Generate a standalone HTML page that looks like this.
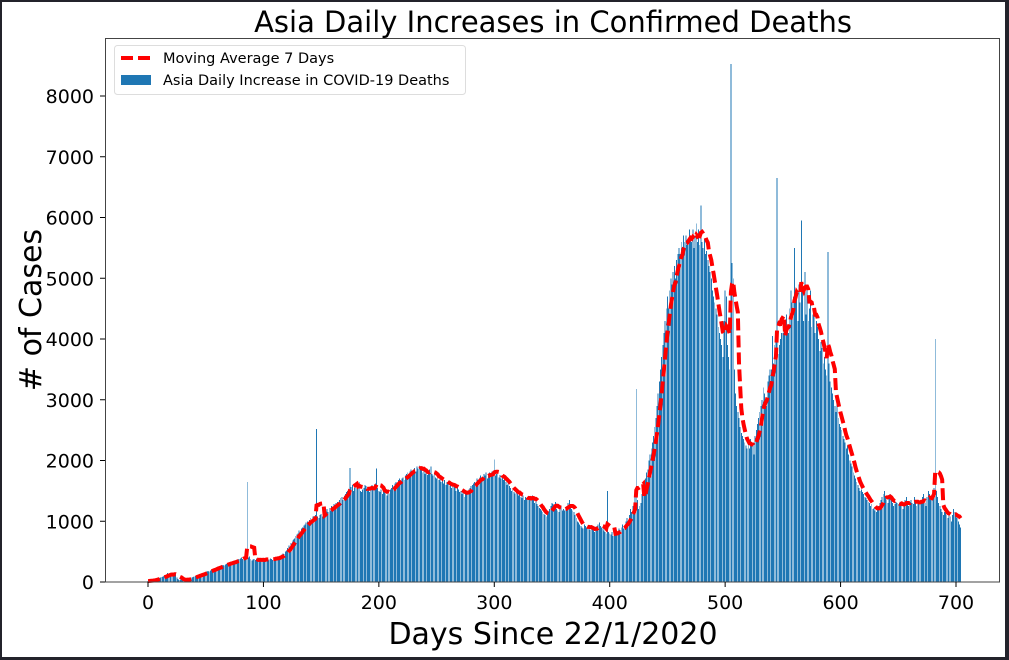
<!DOCTYPE html>
<html><head><meta charset="utf-8"><style>
html,body{margin:0;padding:0;background:#23232b;}
svg{display:block;font-family:"DejaVu Sans","Liberation Sans",sans-serif;}
</style></head><body>
<svg id="chart" width="1009" height="660" viewBox="0 0 1009 660">
<rect x="2" y="2" width="1003" height="655" fill="#fff"/>
<text x="553" y="32" font-size="29" text-anchor="middle">Asia Daily Increases in Confirmed Deaths</text>
<g id="bars" shape-rendering="crispEdges"></g>
<path id="ma" fill="none" stroke="#ff0000" stroke-width="4" stroke-dasharray="12 5"/>
<rect x="105.5" y="38.5" width="894" height="543.5" fill="none" stroke="#444" stroke-width="1"/>
<g id="xt"></g>
<g id="yt"></g>
<text x="553" y="644" font-size="30" text-anchor="middle">Days Since 22/1/2020</text>
<text transform="translate(41,310) rotate(-90)" font-size="30" text-anchor="middle">#  of Cases</text>
<g>
<rect x="114.5" y="45.5" width="351" height="49" rx="3" fill="#fff" stroke="#ddd"/>
<line x1="121" y1="58" x2="150" y2="58" stroke="#ff0000" stroke-width="4" stroke-dasharray="12 5"/>
<text x="163" y="63" font-size="14.5">Moving Average 7 Days</text>
<rect x="121" y="75" width="30" height="10" fill="#1f77b4"/>
<text x="163" y="85" font-size="14.5">Asia Daily Increase in COVID-19 Deaths</text>
</g>
</svg>
<script>
const deaths = [
17,15,24,26,26,38,42,46,59,64,
66,73,86,89,97,108,97,146,121,143,
142,105,98,136,150,70,52,29,44,47,
35,42,31,38,31,52,58,60,70,80,
90,95,100,110,105,120,130,140,135,150,
160,170,180,175,190,200,210,220,215,230,
240,250,245,260,270,280,275,290,300,310,
300,320,330,310,340,350,330,360,370,380,
390,400,380,420,410,430,1650,400,420,380,
350,370,380,360,390,340,350,370,360,380,
370,360,390,380,350,370,390,380,360,400,
390,410,380,420,400,430,450,470,460,500,
520,560,600,580,640,680,700,720,760,780,
800,850,820,880,900,930,950,980,1000,960,
1020,1050,990,1080,1060,1100,2520,1080,1050,1100,
1120,1080,1150,1100,1180,1200,1150,1220,1180,1250,
1230,1280,1250,1300,1320,1280,1350,1380,1400,1350,
1420,1450,1480,1500,1520,1880,1560,1600,1500,1550,
1600,1620,1580,1650,1500,1480,1520,1550,1600,1580,
1500,1520,1480,1560,1600,1550,1580,1620,1870,1550,
1500,1480,1520,1450,1500,1550,1480,1420,1500,1460,
1520,1550,1600,1580,1620,1650,1600,1680,1700,1650,
1700,1720,1680,1750,1780,1800,1760,1820,1850,1800,
1850,1880,1820,1900,1870,1920,1880,1850,1800,1830,
1780,1800,1760,1820,1850,1900,1780,1750,1800,1720,
1700,1750,1680,1720,1650,1700,1620,1680,1600,1650,
1620,1580,1600,1550,1620,1580,1600,1500,1560,1520,
1480,1500,1450,1520,1400,1480,1450,1500,1520,1550,
1580,1600,1620,1650,1600,1700,1680,1720,1750,1700,
1720,1780,1750,1800,1700,1760,1800,1750,1820,1780,
2020,1750,1780,1800,1720,1760,1700,1740,1680,1700,
1650,1600,1620,1580,1550,1500,1520,1480,1460,1500,
1450,1420,1480,1400,1380,1420,1350,1400,1380,1360,
1380,1400,1350,1420,1380,1300,1350,1280,1250,1220,
1200,1180,1150,1120,1100,1080,1120,1150,1200,1250,
1300,1280,1250,1320,1200,1180,1150,1220,1250,1180,
1200,1180,1220,1250,1300,1350,1250,1200,1180,1150,
1100,1050,1000,980,950,920,900,880,950,920,
900,880,920,860,900,880,850,820,900,920,
950,980,920,900,880,850,820,800,1500,820,
800,780,820,760,800,780,850,820,880,860,
900,950,880,920,1000,1050,980,1100,1200,1150,
1250,1300,1400,3180,1350,1200,1250,1300,1450,1550,
1650,1700,1800,1850,2000,2100,2200,2300,2400,2550,
2700,2900,3100,3300,3500,3700,3900,4100,4300,4500,
4700,4500,4800,5000,4900,5100,5200,5000,5300,5400,
5500,5400,5600,5500,5700,5600,5700,5550,5600,5800,
5700,5600,5800,5500,5700,5900,5600,5800,5550,6200,
5600,5500,5650,5400,5450,5300,5200,5100,5000,4800,
4700,4600,4500,4400,4200,4100,4000,3900,3700,4300,
4800,4700,3900,3700,3500,8530,5250,5000,3500,3100,
2900,2800,2700,2550,2450,2400,2350,2300,2250,2200,
2300,2200,2350,2250,2300,2100,2400,2500,2600,2700,
2800,2900,3000,3200,3100,3000,2900,3300,3400,3500,
3500,4050,3600,3900,4000,6650,3750,3900,4000,4100,
4100,4200,4300,4400,4200,4100,4500,4800,4600,4700,
5500,4600,4700,4300,4900,4600,5950,4800,4300,5100,
4400,4900,4300,4500,4800,4200,4400,4500,4100,4300,
4200,4000,3800,3950,3850,3600,3700,3500,3400,5430,
3600,3300,3200,3100,3000,2900,2800,2950,2700,2600,
2550,2500,2400,2350,2300,2200,2250,2100,2000,1950,
1900,1800,1750,1700,1650,1600,1550,1500,1520,1480,
1450,1400,1380,1350,1320,1300,1250,1280,1200,1220,
1180,1150,1200,1250,1300,1350,1400,1450,1500,1400,
1350,1300,1400,1450,1350,1300,1250,1280,1320,1300,
1280,1300,1250,1320,1200,1280,1350,1400,1300,1250,
1320,1350,1300,1280,1400,1350,1250,1320,1280,1300,
1350,1400,1450,1300,1250,1400,1500,1450,1350,1400,
1500,1550,4000,1500,1400,1300,1250,1200,1150,1100,
1150,1200,1100,1050,1150,1080,1000,1100,1200,1150,
1100,1050,1000,950,900
];
const xTicks = [0,100,200,300,400,500,600,700];
const yTicks = [0,1000,2000,3000,4000,5000,6000,7000,8000];
const window7 = 7;

const NS = "http://www.w3.org/2000/svg";
const X0 = 148, XS = 808/700, Y0 = 582, YS = 486/8000;
const xs = d => X0 + d*XS;
const ys = v => Y0 - v*YS;

const bars = document.getElementById('bars');
deaths.forEach((v,i)=>{
  const r = document.createElementNS(NS,'rect');
  r.setAttribute('x', xs(i)-0.4*XS);
  r.setAttribute('y', ys(v));
  r.setAttribute('width', 0.8*XS);
  r.setAttribute('height', Y0-ys(v));
  r.setAttribute('fill', '#1f77b4');
  
  
  bars.appendChild(r);
});

let d = '';
deaths.forEach((v,i)=>{
  const s = Math.max(0,i-window7+1);
  const sl = deaths.slice(s,i+1);
  const m = sl.reduce((a,b)=>a+b,0)/sl.length;
  d += (i?'L':'M') + xs(i).toFixed(2) + ',' + ys(m).toFixed(2);
});
document.getElementById('ma').setAttribute('d', d);

const xt = document.getElementById('xt');
xTicks.forEach(t=>{
  const l = document.createElementNS(NS,'line');
  l.setAttribute('x1', xs(t)); l.setAttribute('x2', xs(t));
  l.setAttribute('y1', 582); l.setAttribute('y2', 587);
  l.setAttribute('stroke', '#000');
  
  
  xt.appendChild(l);
  const tx = document.createElementNS(NS,'text');
  tx.setAttribute('x', xs(t)); tx.setAttribute('y', 609);
  tx.setAttribute('font-size', '19'); tx.setAttribute('text-anchor', 'middle');
  tx.textContent = t;
  
  
  xt.appendChild(tx);
});
const yt = document.getElementById('yt');
yTicks.forEach(t=>{
  const l = document.createElementNS(NS,'line');
  l.setAttribute('x1', 100); l.setAttribute('x2', 105);
  l.setAttribute('y1', ys(t)); l.setAttribute('y2', ys(t));
  l.setAttribute('stroke', '#000');
  
  
  yt.appendChild(l);
  const tx = document.createElementNS(NS,'text');
  tx.setAttribute('x', 94); tx.setAttribute('y', ys(t)+7);
  tx.setAttribute('font-size', '19'); tx.setAttribute('text-anchor', 'end');
  tx.textContent = t;
  
  
  yt.appendChild(tx);
});
</script>
</body></html>
